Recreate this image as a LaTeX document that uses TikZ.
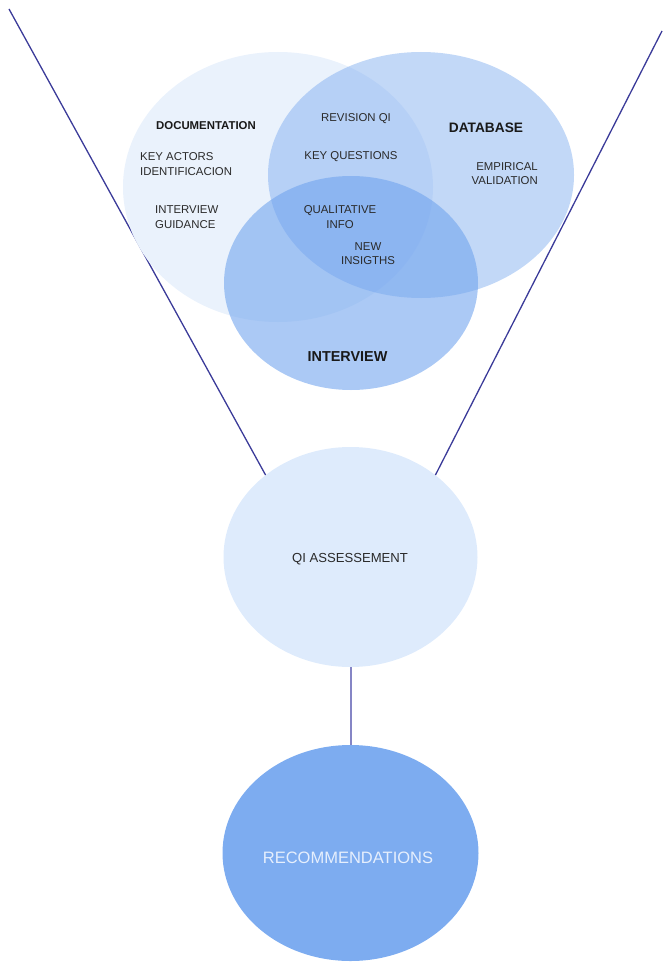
\documentclass[tikz,border=0pt]{standalone}
\usepackage{fontspec}
\setmainfont{Liberation Sans}
\usetikzlibrary{shapes.geometric}

\definecolor{vennblue}{HTML}{6FA3EE}
\definecolor{qifill}{HTML}{DEEBFC}
\definecolor{recfill}{HTML}{7DACF0}
\definecolor{funnel}{HTML}{3B3B99}
\definecolor{linkline}{HTML}{8585C5}
\definecolor{smalltext}{HTML}{2A2A2A}
\definecolor{rectext}{HTML}{E6EFFD}

\tikzset{
  blob/.style={ellipse, draw=none, inner sep=0pt},
  docsize/.style={minimum width=310pt, minimum height=270pt},
  dbsize/.style={minimum width=306pt, minimum height=246pt},
  intsize/.style={minimum width=254pt, minimum height=214pt},
  smalllabel/.style={inner sep=0pt, text=smalltext,
    font=\fontsize{11.4}{14.5}\selectfont},
  titlelabel/.style={inner sep=0pt, text=black!90, font=\bfseries},
  funnelline/.style={draw=funnel, line width=1.3pt},
}

\begin{document}
\begin{tikzpicture}[x=1pt, y=-1pt]
\useasboundingbox (0,0) rectangle (662,963);

% assessment and outcome
\node[blob, fill=qifill, minimum width=254pt, minimum height=220pt] (qi) at (350.5,557) {};
\node[blob, fill=recfill, minimum width=256pt, minimum height=216pt] (rec) at (350.5,853) {};

% funnel edges, passing behind the source circles
\coordinate (ltop) at (9,9);
\coordinate (rtop) at (662,31);
\draw[funnelline] (ltop) -- (qi.136);
\draw[funnelline] (rtop) -- (qi.44);
\draw[draw=linkline, line width=2pt] (qi.south) -- (rec.north);

% opaque white base under the translucent circles
\node[blob, fill=white, docsize] (docbg) at (278,187) {};
\node[blob, fill=white, dbsize] (dbbg) at (421,175) {};
\node[blob, fill=white, intsize] (intbg) at (351,283) {};

% three overlapping sources
\node[blob, fill=vennblue, fill opacity=0.14, docsize] (doc) at (278,187) {};
\node[blob, fill=vennblue, fill opacity=0.42, dbsize] (db) at (421,175) {};
\node[blob, fill=vennblue, fill opacity=0.58, intsize] (int) at (351,283) {};

% labels in the source circles
\node[titlelabel, font=\bfseries\fontsize{11.4}{14}\selectfont] (tdoc) at (206,126) {DOCUMENTATION};
\node[titlelabel, font=\bfseries\fontsize{13.7}{16}\selectfont] (tdb) at (486,128) {DATABASE};
\node[titlelabel, font=\bfseries\fontsize{14.4}{17}\selectfont] (tint) at (347.5,357) {INTERVIEW};

\node[smalllabel, anchor=west, align=left] (actors) at (140,164) {KEY ACTORS\\IDENTIFICACION};
\node[smalllabel, anchor=west, align=left] (guide) at (155,217) {INTERVIEW\\GUIDANCE};
\node[smalllabel] (rev) at (356,119) {REVISION QI};
\node[smalllabel] (keyq) at (351,157) {KEY QUESTIONS};
\node[smalllabel, anchor=east, align=right] (emp) at (538,173.5) {EMPIRICAL\\VALIDATION};
\node[smalllabel, align=center] (qual) at (340,217) {QUALITATIVE\\INFO};
\node[smalllabel, align=center] (new) at (368,253.5) {NEW\\INSIGTHS};

% labels in the lower circles
\node[inner sep=0pt, text=smalltext, font=\fontsize{13.1}{15}\selectfont] (tqi) at (350,559) {QI ASSESSEMENT};
\node[inner sep=0pt, text=rectext, font=\fontsize{16.5}{19}\selectfont] (trec) at (348,858) {RECOMMENDATIONS};
\end{tikzpicture}
\end{document}
